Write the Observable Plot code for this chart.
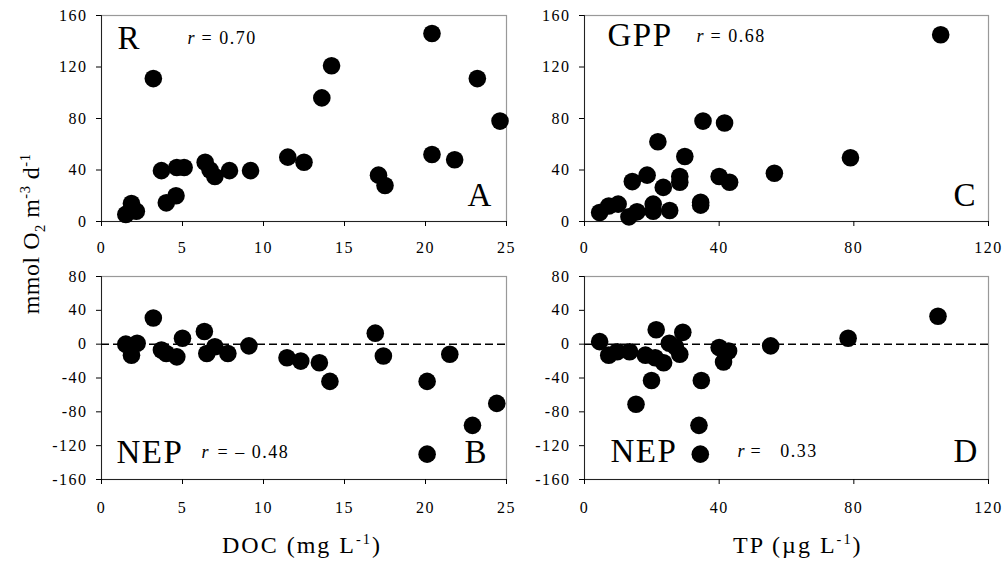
<!DOCTYPE html>
<html><head><meta charset="utf-8">
<script src="https://cdn.jsdelivr.net/npm/d3@7"></script>
<script src="https://cdn.jsdelivr.net/npm/@observablehq/plot@0.6"></script>
<style>
body{margin:0;background:#fff;}
#wrap{position:relative;width:1004px;height:564px;font-family:"Liberation Serif","Times New Roman",serif;color:#000;line-height:1;}
.p{position:absolute;}
.t{position:absolute;font-size:24px;white-space:nowrap;letter-spacing:2px;}
sup,sub{font-size:0.6em;line-height:0;}
</style></head><body><div id="wrap"></div>
<script>
// Panel A: R vs DOC
const docA = [1.5, 1.85, 2.15, 3.2, 3.7, 4.0, 4.6, 4.65, 5.1, 6.4, 6.7, 7.0, 7.9, 9.2, 11.5, 12.5, 13.6, 14.2, 17.1, 17.5, 20.4, 20.4, 21.8, 23.2, 24.6];
const rA   = [5.5, 14, 8, 111, 39.5, 14.5, 20, 42, 42, 46, 40, 35, 39.5, 39.5, 50, 46, 96, 121, 36, 28, 146, 52, 48, 111, 78];
// Panel B: NEP vs DOC
const docB = [1.5, 1.85, 2.2, 3.2, 3.7, 4.0, 4.65, 5.0, 6.35, 6.5, 7.0, 7.8, 9.1, 11.45, 12.3, 13.45, 14.1, 16.9, 17.4, 20.1, 20.1, 21.5, 22.9, 24.4];
const nepB = [0, -13, 1, 31, -7, -11, -15, 7, 15, -11, -3, -11, -2, -16, -20, -22, -44, 13, -14, -44, -130, -12, -96, -70];
// Panel C: GPP vs TP
const tpC  = [4.5, 7.2, 10, 13.2, 14.2, 15.6, 18.6, 20.4, 20.4, 21.8, 23.4, 25.3, 28.3, 28.3, 29.8, 34.5, 34.5, 35.2, 40, 41.6, 43.1, 56.4, 79, 105.8];
const gppC = [7, 12, 13.5, 3.6, 31, 7.5, 36, 13.5, 8, 62, 26.5, 8.5, 35, 30.5, 50.5, 15, 12.7, 78, 35, 76.5, 30.5, 37.5, 49.5, 145];
// Panel D: NEP vs TP
const tpD  = [4.5, 7.2, 9.7, 13.4, 15.3, 18.1, 19.9, 21, 21.3, 23.5, 25.2, 27, 28.3, 29.2, 34, 34.4, 34.7, 40, 41.3, 42.8, 55.3, 78.3, 105];
const nepD = [3, -13, -9, -9, -71, -13, -43, -16, 17, -22, 1, -3, -12, 14, -96, -130, -43, -4, -21, -8, -2, 7, 33];

// Ticks
const docTicks = [0, 5, 10, 15, 20, 25];
const tpTicks = [0, 40, 80, 120];
const topYTicks = [0, 40, 80, 120, 160];
const botYTicks = [-160, -120, -80, -40, 0, 40, 80];

// Annotations
const panelA = {name: "R", letter: "A", r: "= 0.70"};
const panelB = {name: "NEP", letter: "B", r: "= \u2013 0.48"};
const panelC = {name: "GPP", letter: "C", r: "= 0.68"};
const panelD = {name: "NEP", letter: "D", r: "=\u00a0\u00a0 0.33"};

const wrap = document.getElementById("wrap");

function panel(o) {
  const data = o.xs.map((x, i) => ({x, y: o.ys[i]}));
  const marks = [
    Plot.frame({stroke: "#999", strokeWidth: 1.2}),
    Plot.ruleX([o.xDomain[0]], {stroke: "#222"}),
    Plot.ruleY([o.yDomain[0]], {stroke: "#222"}),
    Plot.axisX({ticks: o.xTicks, tickSize: 5, tickPadding: o.xPad, tickFormat: d => String(d), label: null}),
    Plot.axisY({ticks: o.yTicks, tickSize: 5, tickPadding: 9, tickFormat: d => String(d), label: null}),
  ];
  if (o.zero) marks.push(Plot.ruleY([0], {stroke: "#000", strokeWidth: 1.5, strokeDasharray: "8,4"}));
  marks.push(Plot.dot(data, {x: "x", y: "y", r: 8.8, fill: "#000", stroke: "none"}));
  const a = o.ann;
  marks.push(Plot.text([a.name], {text: d => d, frameAnchor: "top-left", dx: a.nameDx, dy: a.nameDy, fontSize: 33, textAnchor: "start", lineAnchor: "middle"}));
  marks.push(Plot.text(["r"], {text: d => d, frameAnchor: "top-left", dx: a.rDx, dy: a.rDy, fontSize: 18, fontStyle: "italic", textAnchor: "start", lineAnchor: "middle"}));
  marks.push(Plot.text([a.rText], {text: d => d, frameAnchor: "top-left", dx: a.rDx + a.eqGap, dy: a.rDy, fontSize: 18, textAnchor: "start", lineAnchor: "middle"}));
  marks.push(Plot.text([a.letter], {text: d => d, frameAnchor: "top-left", dx: a.letDx, dy: a.letDy, fontSize: 33, textAnchor: "start", lineAnchor: "middle"}));
  const svg = Plot.plot({
    width: o.width, height: o.height,
    marginLeft: o.ml, marginRight: o.mr, marginTop: o.mt, marginBottom: o.mb,
    x: {domain: o.xDomain},
    y: {domain: o.yDomain},
    style: {fontFamily: "'Liberation Serif','Times New Roman',serif", fontSize: "16px", background: "transparent", color: "#000", letterSpacing: "1.5px", overflow: "visible"},
    marks
  });
  const div = document.createElement("div");
  div.className = "p";
  div.style.left = o.left + "px";
  div.style.top = o.top + "px";
  div.appendChild(svg);
  wrap.appendChild(div);
}

panel({xs: docA, ys: rA, xDomain: [0, 25], yDomain: [0, 160], xTicks: docTicks, yTicks: topYTicks,
  left: 0, top: 0, width: 520, height: 262, ml: 101, mr: 14, mt: 15, mb: 41, xPad: 15, zero: false,
  ann: {name: panelA.name, nameDx: 16, nameDy: 23, rText: panelA.r, rDx: 86, rDy: 23, eqGap: 14, letter: panelA.letter, letDx: 366, letDy: 180}});
panel({xs: docB, ys: nepB, xDomain: [0, 25], yDomain: [-160, 80], xTicks: docTicks, yTicks: botYTicks,
  left: 0, top: 262, width: 520, height: 300, ml: 101, mr: 14, mt: 14, mb: 83, xPad: 17, zero: true,
  ann: {name: panelB.name, nameDx: 15, nameDy: 176, rText: panelB.r, rDx: 100, rDy: 176, eqGap: 16, letter: panelB.letter, letDx: 363, letDy: 176}});
panel({xs: tpC, ys: gppC, xDomain: [0, 120], yDomain: [0, 160], xTicks: tpTicks, yTicks: topYTicks,
  left: 484, top: 0, width: 520, height: 262, ml: 100, mr: 16, mt: 15, mb: 41, xPad: 15, zero: false,
  ann: {name: panelC.name, nameDx: 23, nameDy: 20, rText: panelC.r, rDx: 112, rDy: 21, eqGap: 14, letter: panelC.letter, letDx: 369, letDy: 180}});
panel({xs: tpD, ys: nepD, xDomain: [0, 120], yDomain: [-160, 80], xTicks: tpTicks, yTicks: botYTicks,
  left: 484, top: 262, width: 520, height: 300, ml: 100, mr: 16, mt: 14, mb: 83, xPad: 17, zero: true,
  ann: {name: panelD.name, nameDx: 26, nameDy: 175, rText: panelD.r, rDx: 153, rDy: 175, eqGap: 13, letter: panelD.letter, letDx: 369, letDy: 175}});

// Axis titles
const xt1 = document.createElement("div");
xt1.className = "t"; xt1.innerHTML = "DOC (mg L<sup>-1</sup>)";
xt1.style.left = "222px"; xt1.style.top = "533px";
wrap.appendChild(xt1);
const xt2 = document.createElement("div");
xt2.className = "t"; xt2.innerHTML = "TP (\u00b5g L<sup>-1</sup>)";
xt2.style.left = "733px"; xt2.style.top = "533px";
wrap.appendChild(xt2);
const yt = document.createElement("div");
yt.className = "t"; yt.innerHTML = "mmol O<sub>2</sub> m<sup>-3</sup> d<sup>-1</sup>";
yt.style.letterSpacing = "0.5px";
yt.style.left = "31px"; yt.style.top = "234px";
yt.style.transform = "translate(-50%,-50%) rotate(-90deg)";
wrap.appendChild(yt);
</script>
</body></html>
